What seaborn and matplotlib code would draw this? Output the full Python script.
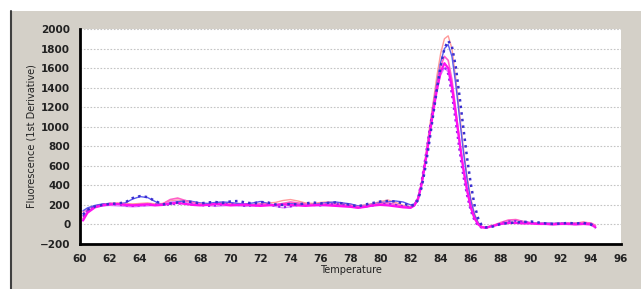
import matplotlib
matplotlib.use("Agg")
import matplotlib.pyplot as plt
from matplotlib.patches import Rectangle
from matplotlib.lines import Line2D
from matplotlib.ticker import MultipleLocator
import pandas as pd
import seaborn as sns

# Melt curve data: temperature grid (deg C) and first-derivative fluorescence per well
temps = [60.2, 60.5, 61, 61.5, 62, 62.5, 63, 63.5, 64, 64.5, 65, 65.5, 66, 66.5, 67, 67.5,
         68, 68.5, 69, 69.5, 70, 70.5, 71, 71.5, 72, 72.5, 73, 73.5, 74, 74.5, 75, 75.5,
         76, 76.5, 77, 77.5, 78, 78.5, 79, 79.5, 80, 80.5, 81, 81.5, 82,
         82.25, 82.5, 82.75, 83, 83.25, 83.5, 83.75, 84, 84.25, 84.5, 84.75, 85, 85.25,
         85.5, 85.75, 86, 86.25, 86.5, 86.75, 87,
         87.5, 88, 88.5, 89, 89.5, 90, 90.5, 91, 91.5, 92, 92.5, 93, 93.5, 94, 94.3]

salmon = [130, 160, 190, 205, 215, 220, 215, 210, 215, 220, 210, 215, 240, 250, 235, 220,
          215, 210, 220, 225, 215, 205, 200, 205, 210, 220, 225, 245, 255, 240, 220, 215,
          225, 230, 220, 215, 205, 190, 200, 215, 235, 250, 225, 195, 180,
          205, 280, 450, 700, 980, 1250, 1520, 1750, 1900, 1930, 1800, 1500, 1150,
          800, 500, 270, 110, 20, -20, -30,
          -10, 10, 25, 20, 15, 20, 15, 10, 10, 15, 10, 15, 25, 10, -20]

blue_dot = [100, 150, 185, 200, 210, 215, 225, 270, 290, 280, 240, 205, 215, 225, 235, 230,
            215, 225, 230, 220, 235, 240, 225, 215, 230, 225, 205, 200, 210, 205, 215, 225,
            215, 220, 225, 215, 200, 185, 205, 220, 235, 240, 235, 215, 190,
            200, 250, 390, 600, 850, 1120, 1380, 1620, 1800, 1880, 1820, 1620, 1320,
            1000, 690, 420, 200, 60, -15, -30,
            -20, 5, 15, 20, 25, 30, 20, 10, 5, 10, 15, 10, 15, 0, -40]

blue = [140, 170, 195, 210, 215, 210, 220, 260, 285, 275, 235, 200, 210, 230, 245, 235,
        220, 215, 225, 230, 225, 215, 210, 220, 235, 215, 195, 205, 215, 210, 200, 205,
        215, 225, 230, 220, 210, 190, 195, 210, 225, 230, 240, 230, 200,
        210, 270, 430, 670, 930, 1200, 1450, 1660, 1800, 1840, 1720, 1440, 1100,
        760, 470, 250, 100, 15, -25, -30,
        -15, 5, 15, 15, 20, 15, 10, 15, 10, 10, 5, 10, 10, 5, -25]

pink = [60, 130, 180, 200, 215, 210, 205, 200, 205, 210, 200, 210, 255, 270, 245, 225,
        210, 200, 205, 210, 205, 200, 195, 200, 210, 205, 200, 215, 230, 220, 210, 200,
        205, 210, 205, 200, 195, 180, 190, 205, 215, 220, 205, 185, 175,
        195, 265, 440, 680, 940, 1200, 1430, 1620, 1720, 1680, 1480, 1180, 870,
        580, 350, 170, 60, 0, -25, -30,
        -10, 20, 45, 50, 30, 15, 10, 10, 5, 10, 15, 10, 20, 15, -10]

magenta = [40, 120, 175, 195, 205, 210, 200, 195, 200, 205, 195, 200, 215, 220, 210, 200,
           195, 200, 210, 205, 195, 200, 205, 195, 190, 195, 200, 205, 200, 195, 190, 195,
           200, 195, 190, 185, 180, 170, 180, 195, 200, 195, 185, 175, 170,
           195, 260, 420, 650, 900, 1150, 1380, 1560, 1650, 1600, 1410, 1140, 850,
           580, 360, 180, 65, 0, -30, -35,
           -15, 5, 15, 15, 10, 10, 5, 5, 0, 5, 5, 0, 5, 0, -30]

purple = [80, 140, 185, 200, 210, 205, 195, 190, 195, 200, 205, 200, 205, 215, 210, 205,
          200, 190, 195, 205, 210, 200, 190, 195, 200, 205, 190, 175, 185, 200, 205, 200,
          195, 205, 210, 200, 190, 175, 185, 195, 205, 210, 200, 185, 175,
          200, 275, 460, 700, 960, 1200, 1410, 1570, 1620, 1540, 1330, 1050, 760,
          500, 300, 140, 40, -15, -35, -35,
          -15, 10, 30, 35, 25, 15, 10, 5, 5, 10, 5, 5, 10, 5, -20]

violet = [110, 150, 180, 190, 195, 190, 185, 180, 185, 190, 195, 205, 230, 240, 225, 210,
          200, 195, 185, 190, 195, 190, 185, 190, 195, 200, 185, 170, 180, 195, 200, 195,
          190, 195, 200, 195, 185, 170, 180, 190, 200, 205, 195, 180, 170,
          190, 260, 430, 660, 910, 1150, 1370, 1530, 1600, 1560, 1380, 1110, 830,
          560, 340, 170, 60, 0, -25, -30,
          -10, 15, 35, 45, 30, 20, 15, 10, 10, 15, 10, 10, 15, 10, -15]

wells = {
    "salmon": (salmon, "#ff9a9a", "-", 1.0),
    "violet": (violet, "#e08cff", "-", 1.0),
    "blue": (blue, "#5a5af0", "-", 1.0),
    "pink": (pink, "#ff5fc8", "-", 1.2),
    "purple": (purple, "#9a20ee", ":", 1.6),
    "magenta": (magenta, "#ff10f0", "-", 1.6),
    "blue_dot": (blue_dot, "#3a2fd0", ":", 1.8),
}

sns.set_style("white")
plt.rcParams["font.family"] = ["DejaVu Sans"]

fig = plt.figure(figsize=(6.41, 2.89), dpi=100)
fig.patch.set_facecolor("white")
# grey window panel behind the plot
fig.add_artist(Rectangle((11 / 641, 0), 1, 1 - 11 / 289, transform=fig.transFigure,
                         facecolor="#d4d0c8", edgecolor="none", zorder=-2))
fig.add_artist(Line2D([11 / 641, 11 / 641], [0, 1 - 11 / 289], transform=fig.transFigure,
                      color="#404040", lw=1.5))

ax = fig.add_axes([80 / 641, 1 - 244 / 289, 541 / 641, 215 / 289])
ax.set_facecolor("white")

for name, (vals, col, ls, lw) in wells.items():
    df = pd.DataFrame({"Temperature": temps, "Fluorescence": vals})
    sns.lineplot(data=df, x="Temperature", y="Fluorescence", color=col,
                 linestyle=ls, linewidth=lw, ax=ax)

ax.set_xlim(60, 96)
ax.set_ylim(-200, 2000)
ax.xaxis.set_major_locator(MultipleLocator(2))
ax.xaxis.set_minor_locator(MultipleLocator(1))
ax.yaxis.set_major_locator(MultipleLocator(200))
ax.yaxis.set_minor_locator(MultipleLocator(50))
ax.grid(axis="y", which="major", color="#c4c4c4", linestyle=(0, (1.5, 1.5)), linewidth=0.8)
ax.set_axisbelow(True)

for s in ["top", "right"]:
    ax.spines[s].set_visible(False)
for s in ["left", "bottom"]:
    ax.spines[s].set_color("black")
    ax.spines[s].set_linewidth(2)

ax.tick_params(axis="both", which="major", direction="out", length=5, width=2,
               color="black", labelsize=7.5, pad=2)
ax.tick_params(axis="both", which="minor", direction="out", length=3, width=1.5,
               color="black")
for lab in ax.get_xticklabels() + ax.get_yticklabels():
    lab.set_fontweight("bold")
    lab.set_color("#222222")

ax.set_xlabel("Temperature", fontsize=7, labelpad=1, color="#222222")
ax.set_ylabel("Fluorescence (1st Derivative)", fontsize=7, labelpad=2, color="#222222")

fig.savefig("out.png", dpi=100)
